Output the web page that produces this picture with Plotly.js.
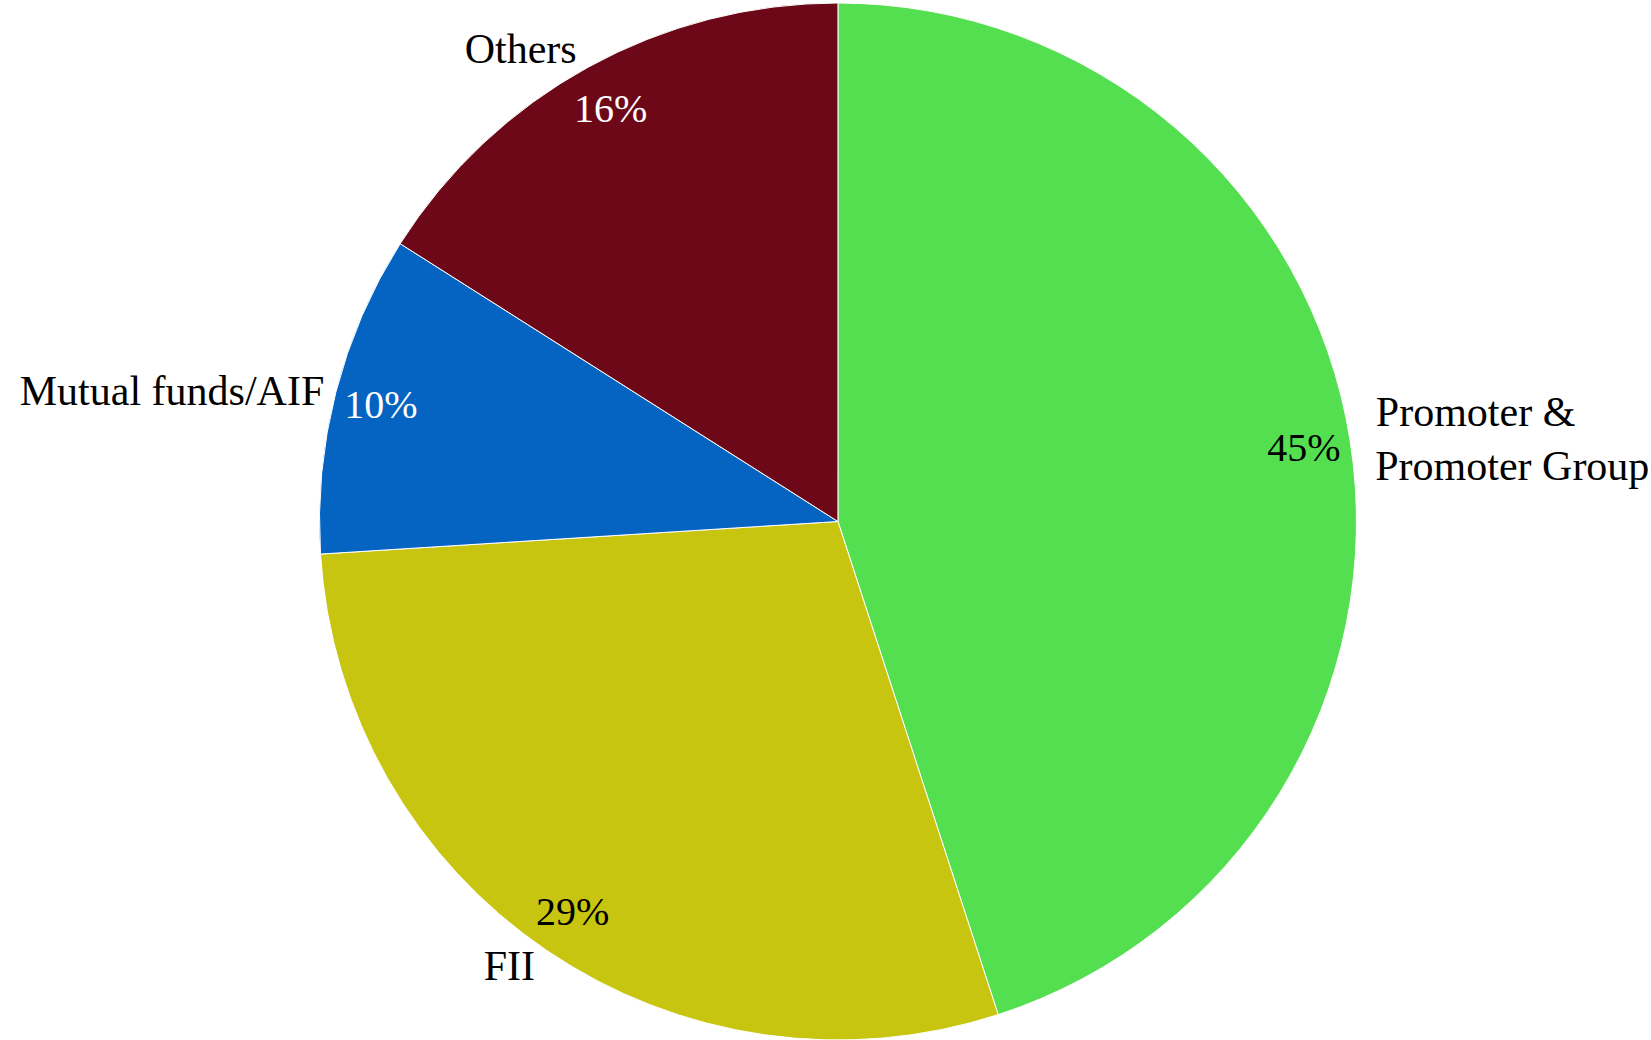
<!DOCTYPE html>
<html>
<head>
<meta charset="utf-8">
<script src="https://cdn.plot.ly/plotly-3.0.1.min.js"></script>
<style>
  html, body { margin: 0; padding: 0; background: #fff; }
  #chart { width: 1651px; height: 1040px; }
</style>
</head>
<body>
<div id="chart"></div>
<script>
// shareholding pattern
var categories = ['Promoter & Promoter Group', 'FII', 'Mutual funds/AIF', 'Others'];
var shares = [45, 29, 10, 16];
var sliceColors = ['#53df50', '#c8c511', '#0563c1', '#6c0818'];
var pctColors = ['#000000', '#000000', '#ffffff', '#ffffff'];

// outside labels: break the long one in two, padding the short line with
// no-break spaces so both lines start at the same x (left aligned look)
var nb = '\u00a0';
var labelText = categories.map(function(c) {
    if (c === 'Promoter & Promoter Group') {
        return 'Promoter &' + nb.repeat(7) + '<br>Promoter Group';
    }
    return c;
});

var serif = 'Liberation Serif, Times New Roman, serif';
var dom = {x: [0.0151, 1], y: [0, 1]};
var clear = categories.map(function() { return 'rgba(0,0,0,0)'; });

// the coloured pie itself
var base = {
    type: 'pie',
    labels: categories,
    values: shares,
    sort: false,
    direction: 'clockwise',
    rotation: 0,
    domain: dom,
    marker: {colors: sliceColors, line: {color: '#ffffff', width: 1}},
    textinfo: 'none',
    hoverinfo: 'label+percent'
};

// transparent ring, only used to place the percentages near the rim
var pctRing = {
    type: 'pie',
    labels: categories,
    values: shares,
    sort: false,
    direction: 'clockwise',
    rotation: 0,
    domain: dom,
    hole: 0.82,
    marker: {colors: clear, line: {width: 0}},
    texttemplate: '%{percent:.0%}',
    textposition: 'inside',
    insidetextorientation: 'horizontal',
    insidetextfont: {family: serif, size: 40, color: pctColors},
    hoverinfo: 'skip'
};

// transparent pie for the outside category labels
var names = {
    type: 'pie',
    labels: categories,
    values: shares,
    text: labelText,
    sort: false,
    direction: 'clockwise',
    rotation: 0,
    domain: dom,
    marker: {colors: clear, line: {width: 0}},
    textinfo: 'text',
    textposition: 'outside',
    outsidetextfont: {family: serif, size: 42, color: '#000000'},
    hoverinfo: 'skip'
};

var layout = {
    width: 1651,
    height: 1040,
    margin: {l: 0, r: 0, t: 3, b: 0},
    showlegend: false,
    paper_bgcolor: '#ffffff',
    font: {family: serif, size: 42, color: '#000000'}
};

Plotly.newPlot('chart', [base, pctRing, names], layout, {displayModeBar: false});
</script>
</body>
</html>
